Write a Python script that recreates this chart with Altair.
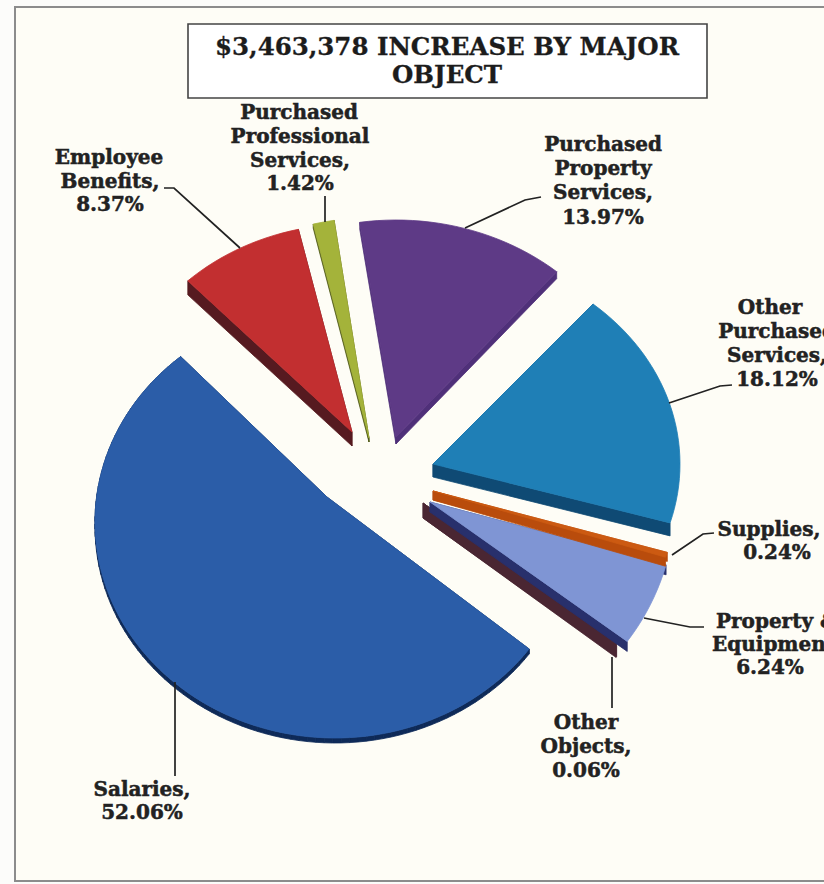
import math
import altair as alt
import pandas as pd

# Budget increase by major object (percent of the total increase)
CATEGORIES = ["Salaries", "Other Objects", "Property & Equipment", "Supplies",
              "Other Purchased Services", "Employee Benefits",
              "Purchased Professional Services", "Purchased Property Services"]
SHARES = [52.06, 0.06, 6.24, 0.24, 18.12, 8.37, 1.42, 13.97]
LABEL_LINES = [["Salaries,"], ["Other", "Objects,"], ["Property &", "Equipment,"],
               ["Supplies,"], ["Other", "Purchased", "Services,"], ["Employee", "Benefits,"],
               ["Purchased", "Professional", "Services,"], ["Purchased", "Property", "Services,"]]
TITLE_LINES = ["$3,463,378 INCREASE BY MAJOR", "OBJECT"]

TOP_COLORS = ["#2b5da8", "#4f2a36", "#7f95d4", "#cc5a12", "#1f7fb6", "#c22f30", "#a4b33a", "#5e3a86"]
WALL_COLORS = ["#0e2a58", "#4a2632", "#28306c", "#b94c0c", "#0f4a74", "#561a20", "#505a16", "#4f3079"]

# Exploded slice geometry: tip, rim ellipse centre and radii, start angle
# (clockwise from north), sweep correction for the tilted view, wall depth,
# and whether the rim itself shows a wall.
SLICE_GEOMETRY = [
    dict(tip=(327, 497), c=(335, 522), r=(240, 216), start=126.0, sweep=1.035, depth=5, rim=True),
    dict(tip=(423, 503), c=(423, 503), r=(240, 235), start=126.2, sweep=1.0, depth=15, rim=False),
    dict(tip=(430, 502), c=(430, 502), r=(245, 235), start=105.5, sweep=0.93, depth=10, rim=False),
    dict(tip=(433, 491), c=(433, 491), r=(245, 210), start=107.0, sweep=1.6, depth=9, rim=False),
    dict(tip=(433, 464), c=(433, 464), r=(247, 210), start=40.4, sweep=1.01, depth=13, rim=False),
    dict(tip=(352, 432), c=(352, 432), r=(239, 208), start=316.6, sweep=1.01, depth=14, rim=False),
    dict(tip=(369, 438), c=(369, 438), r=(239, 220), start=346.5, sweep=1.0, depth=4, rim=False),
    dict(tip=(396, 437), c=(396, 437), r=(248, 217), start=351.6, sweep=0.97, depth=7, rim=False),
]
DRAW_ORDER = [0, 1, 2, 3, 4, 5, 6, 7]

# Centre x and y of each printed label line, the percentage line last.
LABEL_PLACES = [
    [(142, 790), (142, 813)],
    [(586, 723), (586, 747), (586, 771)],
    [(777, 622), (777, 645), (770, 668)],
    [(769, 530), (777, 553)],
    [(770, 308), (777, 332), (777, 356), (777, 380)],
    [(109, 158), (110, 182), (110, 205)],
    [(299, 113), (300, 137), (300, 161), (300, 184)],
    [(603, 145), (603, 169), (603, 193), (603, 218)],
]
LEADERS = [
    [(175, 682), (175, 776)],
    [(612, 657), (612, 708)],
    [(644, 618), (690, 627), (704, 627)],
    [(672, 555), (703, 534), (714, 533)],
    [(669, 403), (720, 386), (732, 385)],
    [(240, 248), (174, 188), (164, 188)],
    [(325, 222), (325, 196)],
    [(465, 228), (525, 200), (541, 197)],
]


def slice_ring(share, g):
    """Outline of one slice: its tip plus the rim arc its share sweeps."""
    sweep = share * 3.6 * g["sweep"]
    steps = max(2, int(sweep / 2))
    ring = [list(g["tip"])]
    for i in range(steps + 1):
        a = math.radians(g["start"] + sweep * i / steps)
        ring.append([g["c"][0] + g["r"][0] * math.sin(a),
                     g["c"][1] - g["r"][1] * math.cos(a)])
    ring.append(ring[0])
    return ring


def feature(part, ring):
    return {"type": "Feature", "properties": {"part": part},
            "geometry": {"type": "Polygon", "coordinates": [ring]}}


features = []
for i in DRAW_ORDER:
    name, g = CATEGORIES[i], SLICE_GEOMETRY[i]
    ring = slice_ring(SHARES[i], g)
    d = g["depth"]
    # the side wall: one quad hanging below each outline segment that shows one
    edges = list(zip(ring[:-1], ring[1:]))
    if not g["rim"]:
        edges = [edges[0], edges[-1]]
    for p, q in edges:
        quad = [p, q, [q[0], q[1] + d], [p[0], p[1] + d], p]
        features.append(feature(name + " wall", quad))
    features.append(feature(name, ring))

part_domain = CATEGORIES + [c + " wall" for c in CATEGORIES]
part_range = TOP_COLORS + WALL_COLORS

label_rows = []
for name_lines, share, places in zip(LABEL_LINES, SHARES, LABEL_PLACES):
    for text, (x, y) in zip(name_lines + [f"{share:.2f}%"], places):
        label_rows.append({"text": text, "x": x, "y": y})
labels = pd.DataFrame(label_rows)

leader_rows = []
for k, path in enumerate(LEADERS):
    for n, (x, y) in enumerate(path):
        leader_rows.append({"leader": k, "n": n, "x": x, "y": y})
leaders = pd.DataFrame(leader_rows)

title_rows = pd.DataFrame({"text": TITLE_LINES, "x": [447, 447], "y": [48, 76]})

one_row = alt.Data(values=[{}])
px_x = alt.X("x:Q", scale=None, axis=None)
px_y = alt.Y("y:Q", scale=None, axis=None)

paper = alt.Chart(one_row).mark_rect(fill="#fefdf6", stroke="#8c8c8c", strokeWidth=2).encode(
    x=alt.value(15), x2=alt.value(840), y=alt.value(7), y2=alt.value(881))
title_box = alt.Chart(one_row).mark_rect(fill="#ffffff", stroke="#444444", strokeWidth=1.6).encode(
    x=alt.value(188), x2=alt.value(707), y=alt.value(24), y2=alt.value(98))
title = alt.Chart(title_rows).mark_text(
    font="DejaVu Serif", fontWeight="bold", fontSize=24.5, color="#1c1c1c", baseline="middle",
    stroke="#1c1c1c", strokeWidth=0.3,
).encode(x=px_x, y=px_y, text="text:N")

part_scale = alt.Scale(domain=part_domain, range=part_range)
pie = alt.Chart(alt.Data(values=features)).mark_geoshape(strokeWidth=0.8).encode(
    color=alt.Color("properties.part:N", legend=None, scale=part_scale),
    stroke=alt.Stroke("properties.part:N", legend=None, scale=part_scale),
).project(type="identity", scale=1, translate=[0, 0])

leader_lines = alt.Chart(leaders).mark_line(color="#222222", strokeWidth=1.7).encode(
    x=px_x, y=px_y, detail="leader:N", order="n:Q")
label_text = alt.Chart(labels).mark_text(
    font="DejaVu Serif", fontWeight="bold", fontSize=20, color="#222222", baseline="middle",
    stroke="#222222", strokeWidth=0.5,
).encode(x=px_x, y=px_y, text="text:N")

chart = alt.layer(paper, title_box, title, pie, leader_lines, label_text).properties(
    width=824, height=884, padding=0, background="#fcfcfa",
    autosize=alt.AutoSizeParams(type="none"),
).configure_view(stroke=None)

chart.save("out.html", embed_options={"renderer": "svg", "actions": False})
